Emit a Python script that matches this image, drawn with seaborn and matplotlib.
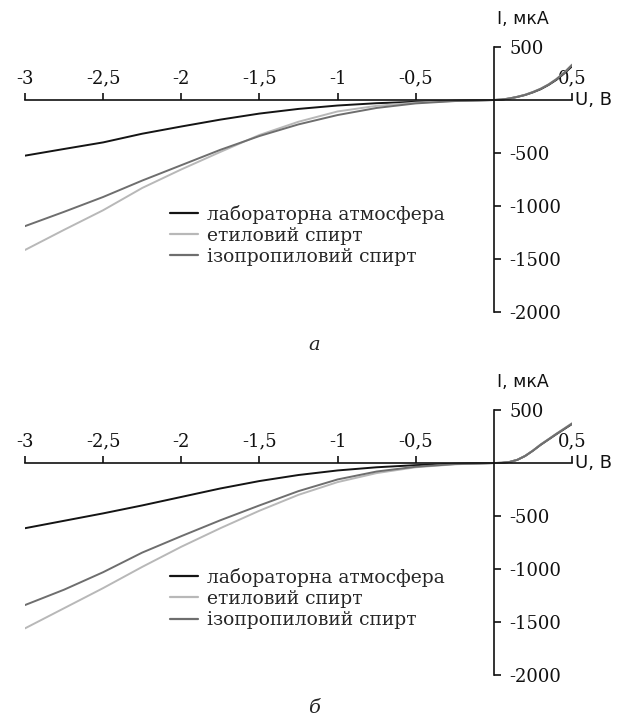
import pandas as pd
import matplotlib.pyplot as plt
import seaborn as sns

sns.set_theme(style="white")
plt.rcParams['font.family'] = ['DejaVu Serif']

# voltage grid, V
u = [-3.0, -2.75, -2.5, -2.25, -2.0, -1.75, -1.5, -1.25, -1.0, -0.75, -0.5, -0.25,
     0.0, 0.05, 0.1, 0.15, 0.2, 0.25, 0.3, 0.35, 0.4, 0.45, 0.5]

# panel a, current in uA
a_air = [-525, -462, -400, -318, -250, -185, -128, -84, -52, -30, -17, -7,
         0, 4, 14, 29, 47, 72, 102, 142, 190, 250, 318]
a_eth = [-1415, -1225, -1040, -830, -655, -490, -330, -205, -108, -55, -25, -8,
         0, 4, 15, 31, 50, 76, 108, 148, 198, 260, 335]
a_iso = [-1190, -1055, -915, -760, -615, -470, -340, -230, -142, -75, -32, -10,
         0, 4, 15, 30, 49, 75, 106, 146, 196, 257, 330]

# panel b
b_air = [-615, -545, -475, -400, -320, -240, -170, -113, -70, -40, -20, -7,
         0, 2, 10, 30, 66, 116, 172, 222, 272, 320, 368]
b_eth = [-1560, -1370, -1180, -980, -790, -615, -450, -300, -180, -95, -40, -12,
         0, 2, 10, 31, 68, 118, 176, 226, 277, 326, 376]
b_iso = [-1340, -1195, -1030, -845, -690, -540, -400, -265, -155, -80, -35, -10,
         0, 2, 10, 30, 67, 117, 174, 224, 275, 323, 372]

labels = ['лабораторна атмосфера', 'етиловий спирт', 'ізопропиловий спирт']
colors = ['#141414', '#b8b8b8', '#6e6e6e']
xticks = [-3, -2.5, -2, -1.5, -1, -0.5, 0.5]
yticks = [500, -500, -1000, -1500, -2000]

fig = plt.figure(figsize=(6.28, 7.2), dpi=100)


def panel(rect, series, caption, cap_y):
    ax = fig.add_axes(rect)
    df = pd.concat([pd.DataFrame({'U': u, 'I': s, 'medium': lab})
                    for s, lab in zip(series, labels)])
    sns.lineplot(data=df, x='U', y='I', hue='medium', hue_order=labels,
                 palette=colors, lw=1.4, ax=ax, legend=False)
    ax.set_xlim(-3, 0.5)
    ax.set_ylim(-2000, 500)
    ax.set_facecolor('none')
    for s in ['bottom', 'left']:
        ax.spines[s].set_visible(False)
    ax.spines['top'].set_position(('data', 0))
    ax.spines['right'].set_position(('data', 0))
    for s in ['top', 'right']:
        ax.spines[s].set_linewidth(1.2)
        ax.spines[s].set_color('#111111')
    ax.xaxis.tick_top()
    ax.yaxis.tick_right()
    ax.set_xticks(xticks)
    ax.set_xticklabels([f'{t:g}'.replace('.', ',') for t in xticks])
    ax.set_yticks(yticks)
    ax.set_yticklabels([str(t) for t in yticks])
    ax.tick_params(axis='both', direction='out', length=5, width=1.2,
                   color='#111111', labelsize=13, labelcolor='#111111')
    ax.tick_params(axis='x', pad=4)
    ax.tick_params(axis='y', pad=6)
    ax.set_xlabel('')
    ax.set_ylabel('')
    ax.text(0.52, 0, 'U, B', fontsize=13, family='DejaVu Sans',
            va='center', ha='left', color='#111111')
    ax.text(0.02, 760, 'I, мкА', fontsize=12.5, family='DejaVu Sans',
            va='center', ha='left', color='#111111', clip_on=False)
    handles = [plt.Line2D([0], [0], color=c, lw=1.6) for c in colors]
    ax.legend(handles, labels, loc='upper left', bbox_to_anchor=(0.265, 0.405),
              frameon=False, fontsize=13.5, handlelength=1.5, handletextpad=0.5,
              labelspacing=0.17, borderpad=0, borderaxespad=0)
    fig.text(0.5, cap_y, caption, fontsize=14, style='italic',
             ha='center', va='center')
    return ax


panel([0.0398, 0.5667, 0.871, 0.368], [a_air, a_eth, a_iso], 'a', 1 - 345 / 720)
panel([0.0398, 0.0625, 0.871, 0.368], [b_air, b_eth, b_iso], 'б', 1 - 708 / 720)

plt.savefig('out.png', dpi=100)
